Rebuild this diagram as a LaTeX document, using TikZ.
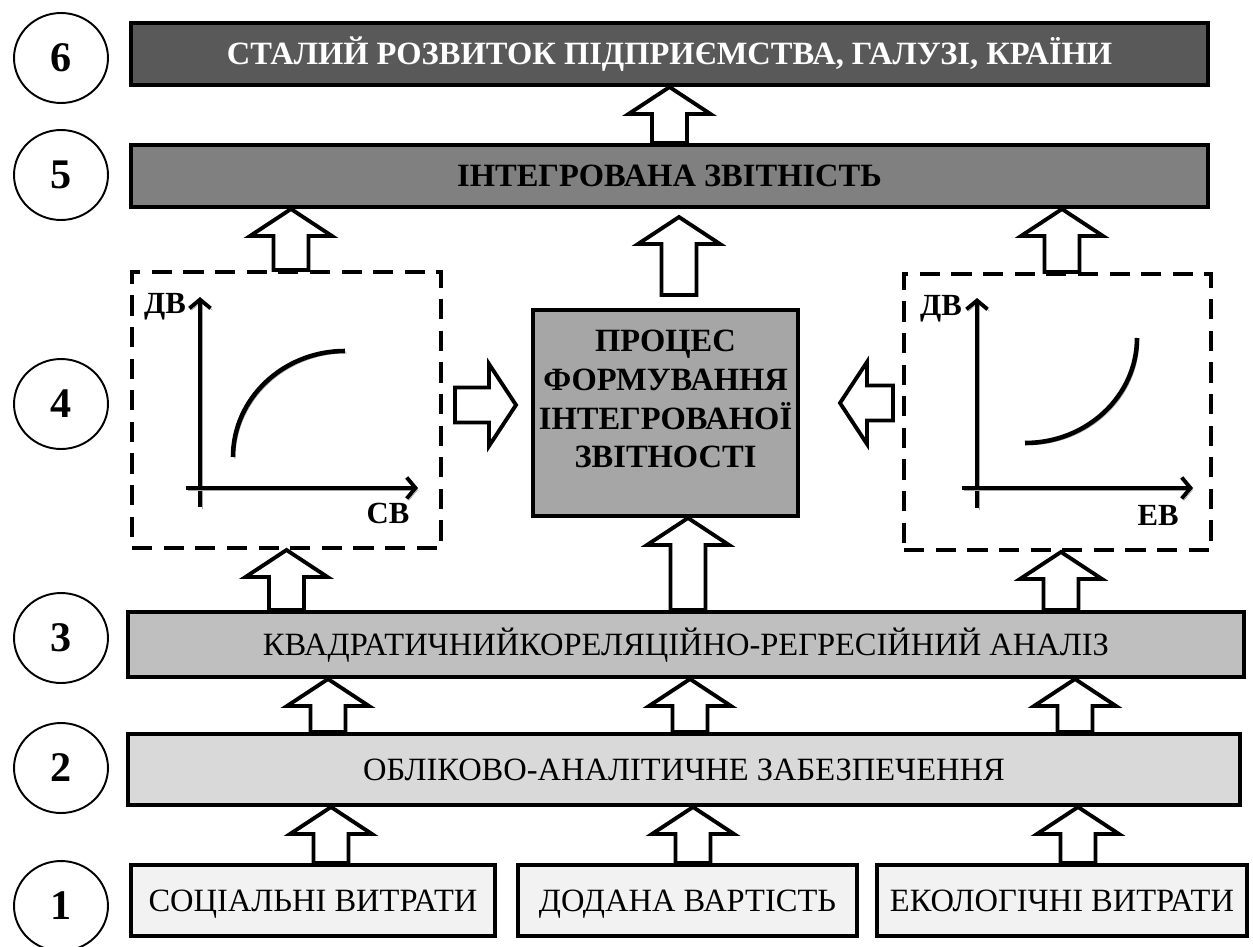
\documentclass[tikz,border=0pt]{standalone}
\usepackage{fontspec}
\setmainfont{Liberation Serif}
\usetikzlibrary{calc}
\usetikzlibrary{positioning}
\usetikzlibrary{shapes.geometric}
\usetikzlibrary{arrows.meta}
\definecolor{fillsix}{HTML}{595959}
\definecolor{fillfive}{HTML}{808080}
\definecolor{fillproc}{HTML}{A6A6A6}
\definecolor{fillthree}{HTML}{BFBFBF}
\definecolor{filltwo}{HTML}{D9D9D9}
\definecolor{fillone}{HTML}{F2F2F2}
\tikzstyle{barnode} = [draw, line width=2.3pt, inner sep=0pt, align=center, font=\fontsize{18.5}{22}\selectfont]
\tikzstyle{barline} = [text height=12.4pt, text depth=0pt]
\tikzstyle{barbold} = [font=\fontsize{18.5}{22}\selectfont\bfseries]
\tikzstyle{levelnode} = [draw, ellipse, line width=1.1pt, inner sep=0pt, minimum width=1.88cm, minimum height=1.8cm, font=\fontsize{24}{28}\selectfont\bfseries]
\tikzstyle{dashbox} = [draw, line width=2.3pt, dash pattern=on 11.5pt off 6.5pt, minimum width=6.18cm, minimum height=5.52cm]
\tikzstyle{blockarr} = [draw, line width=2.2pt, fill=white, line join=miter]
\tikzstyle{shadowed} = [preaction={draw=black!35, transform canvas={xshift=1.1pt, yshift=-1.1pt}}]
\tikzstyle{axisline} = [line width=2.2pt, -{Straight Barb[length=5pt, width=12pt]}, shadowed]
\tikzstyle{curveline} = [line width=2.6pt, shadowed]
\tikzstyle{axislabel} = [anchor=base, inner sep=0pt, font=\fontsize{17.5}{20}\selectfont\bfseries]
\newcommand{\arrshaft}{0.35cm}
\newcommand{\arrwing}{0.82cm}
\newcommand{\arrhead}{0.54cm}
% hollow block arrow from #1 (tail) to #2 (tip)
\newcommand{\blockarrow}[2]{%
  \draw[blockarr]
    ($(#1)!\arrshaft!90:(#2)$) --
    ($($(#2)!\arrhead!(#1)$)!\arrshaft!-90:(#1)$) --
    ($($(#2)!\arrhead!(#1)$)!\arrwing!-90:(#1)$) --
    (#2) --
    ($($(#2)!\arrhead!(#1)$)!\arrwing!90:(#1)$) --
    ($($(#2)!\arrhead!(#1)$)!\arrshaft!90:(#1)$) --
    ($(#1)!\arrshaft!-90:(#2)$) -- cycle;}

\begin{document}
\begin{tikzpicture}[x=0.02cm, y=-0.02cm]
    \useasboundingbox (0,0) rectangle (1253,946);

    % bars of the levels
    \node[barnode, barline, barbold, fill=fillsix, text=white, minimum width=21.54cm, minimum height=1.24cm] (bar_six) at (669.5,54) {СТАЛИЙ РОЗВИТОК ПІДПРИЄМСТВА, ГАЛУЗІ, КРАЇНИ};
    \node[barnode, barline, barbold, fill=fillfive, minimum width=21.54cm, minimum height=1.24cm] (bar_five) at (669.5,176) {ІНТЕГРОВАНА ЗВІТНІСТЬ};
    \node[barnode, barline, fill=fillthree, minimum width=22.32cm, minimum height=1.30cm] (bar_three) at (686,644.5) {КВАДРАТИЧНИЙКОРЕЛЯЦІЙНО-РЕГРЕСІЙНИЙ АНАЛІЗ};
    \node[barnode, barline, fill=filltwo, minimum width=22.24cm, minimum height=1.42cm] (bar_two) at (684,769.5) {ОБЛІКОВО-АНАЛІТИЧНЕ ЗАБЕЗПЕЧЕННЯ};
    \node[barnode, barline, fill=fillone, minimum width=7.28cm, minimum height=1.42cm] (box_soc) at (313,900.5) {СОЦІАЛЬНІ ВИТРАТИ};
    \node[barnode, barline, fill=fillone, minimum width=6.78cm, minimum height=1.42cm] (box_add) at (687.5,900.5) {ДОДАНА ВАРТІСТЬ};
    \node[barnode, barline, fill=fillone, minimum width=7.40cm, minimum height=1.42cm] (box_eco) at (1062,900.5) {ЕКОЛОГІЧНІ ВИТРАТИ};

    % level numbers
    \node[levelnode] (lvl_six) at (61,58) {6};
    \node[levelnode] (lvl_five) at (61,175) {5};
    \node[levelnode] (lvl_four) at (61,404) {4};
    \node[levelnode] (lvl_three) at (61,638) {3};
    \node[levelnode] (lvl_two) at (61,768) {2};
    \node[levelnode] (lvl_one) at (61,906) {1};

    % level 4
    \node[barnode, barbold, fill=fillproc, minimum width=5.30cm, minimum height=4.12cm] (proc_box) at (665.5,413) {ПРОЦЕС\\ФОРМУВАННЯ\\ІНТЕГРОВАНОЇ\\ЗВІТНОСТІ\\[-6pt]\mbox{}};
    \node[dashbox] (graph_left) at (286.5,410) {};
    \node[dashbox, minimum width=6.14cm] (graph_right) at (1057.5,412) {};

    \draw[axisline] (200,507) -- (200,297);
    \draw[axisline] (186,488) -- (418,488);
    \draw[curveline] (233,457) .. controls (233,398.5) and (283.2,351) .. (345,351);
    \node[axislabel] (lab_dv_left) at (165,313) {ДВ};
    \node[axislabel] (lab_sv) at (388,523) {СВ};

    \draw[axisline] (977,508) -- (977,298);
    \draw[axisline] (962,488) -- (1193,488);
    \draw[curveline] (1025,443) .. controls (1086.8,443) and (1137,396) .. (1137,338);
    \node[axislabel] (lab_dv_right) at (941,315) {ДВ};
    \node[axislabel] (lab_ev) at (1158,525) {ЕВ};

    % block arrows
    \coordinate (soc_out) at ($(box_soc.north)+(18,0)$);
    \coordinate (add_out) at ($(box_add.north)+(5.5,0)$);
    \coordinate (eco_out) at ($(box_eco.north)+(16,0)$);
    \blockarrow{soc_out}{bar_two.south -| soc_out}
    \blockarrow{add_out}{bar_two.south -| add_out}
    \blockarrow{eco_out}{bar_two.south -| eco_out}

    \coordinate (two_out_l) at ($(bar_two.north)+(-356,0)$);
    \coordinate (two_out_m) at ($(bar_two.north)+(6,0)$);
    \coordinate (two_out_r) at ($(bar_two.north)+(391,0)$);
    \blockarrow{two_out_l}{bar_three.south -| two_out_l}
    \blockarrow{two_out_m}{bar_three.south -| two_out_m}
    \blockarrow{two_out_r}{bar_three.south -| two_out_r}

    \coordinate (three_out_l) at (bar_three.north -| graph_left.south);
    \coordinate (three_out_m) at ($(bar_three.north -| proc_box.south)+(22.5,0)$);
    \coordinate (three_out_r) at ($(bar_three.north -| graph_right.south)+(3.5,0)$);
    \blockarrow{three_out_l}{graph_left.south}
    \blockarrow{three_out_m}{proc_box.south -| three_out_m}
    \blockarrow{three_out_r}{graph_right.south -| three_out_r}

    \coordinate (left_out) at ($(graph_left.east)+(12,-5)$);
    \coordinate (left_in) at ($(proc_box.west |- left_out)+(-15,0)$);
    \coordinate (right_out) at ($(graph_right.west)+(-9,-9)$);
    \coordinate (right_in) at ($(proc_box.east |- right_out)+(40,0)$);
    \blockarrow{left_out}{left_in}
    \blockarrow{right_out}{right_in}

    \coordinate (four_out_l) at ($(graph_left.north)+(4.5,0)$);
    \coordinate (four_out_m) at ($(proc_box.north)+(13.5,-13)$);
    \coordinate (four_in_m) at ($(bar_five.south -| four_out_m)+(0,8)$);
    \coordinate (four_out_r) at ($(graph_right.north)+(4.5,0)$);
    \blockarrow{four_out_l}{bar_five.south -| four_out_l}
    \blockarrow{four_out_m}{four_in_m}
    \blockarrow{four_out_r}{bar_five.south -| four_out_r}

    \blockarrow{bar_five.north}{bar_six.south}
\end{tikzpicture}
\end{document}
